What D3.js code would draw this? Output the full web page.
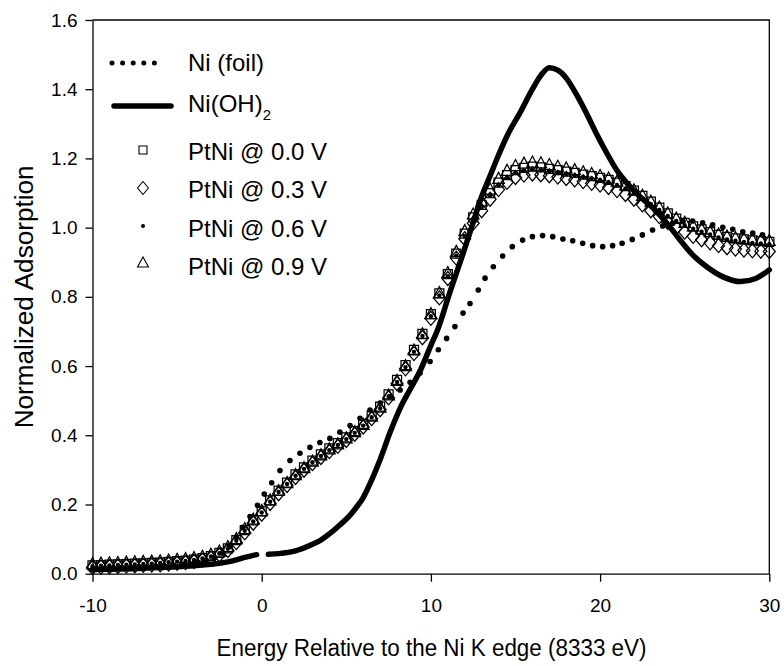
<!DOCTYPE html>
<html><head><meta charset="utf-8">
<script src="https://cdn.jsdelivr.net/npm/d3@7"></script>
<style>
body{margin:0;background:#fff}
text{font-family:"Liberation Sans",Arial,sans-serif;fill:#000}
</style>
</head><body>
<svg id="chart" width="784" height="666"></svg>
<script>
// ---------- data ----------
const energy = [
 -10,-9.5,-9,-8.5,-8,-7.5,-7,-6.5,-6,-5.5,
 -5,-4.5,-4,-3.5,-3,-2.5,-2,-1.5,-1,-0.5,
 0,0.5,1,1.5,2,2.5,3,3.5,4,4.5,
 5,5.5,6,6.5,7,7.5,8,8.5,9,9.5,
 10,10.5,11,11.5,12,12.5,13,13.5,14,14.5,
 15,15.5,16,16.5,17,17.5,18,18.5,19,19.5,
 20,20.5,21,21.5,22,22.5,23,23.5,24,24.5,
 25,25.5,26,26.5,27,27.5,28,28.5,29,29.5,
 30];
const ptni00 = [
 0.024,0.025,0.026,0.027,0.028,0.029,0.030,0.031,0.032,0.034,
 0.036,0.038,0.041,0.045,0.051,0.060,0.073,0.097,0.126,0.154,
 0.180,0.212,0.240,0.263,0.287,0.307,0.327,0.345,0.362,0.377,
 0.394,0.412,0.433,0.457,0.483,0.518,0.560,0.603,0.647,0.693,
 0.750,0.810,0.866,0.925,0.983,1.030,1.066,1.100,1.130,1.152,
 1.166,1.173,1.176,1.174,1.170,1.166,1.162,1.158,1.153,1.149,
 1.144,1.138,1.130,1.120,1.107,1.092,1.075,1.058,1.041,1.026,
 1.014,1.004,0.995,0.987,0.979,0.973,0.969,0.966,0.963,0.961,
 0.959];
const ptni03 = [
 0.018,0.019,0.020,0.021,0.022,0.023,0.024,0.025,0.026,0.028,
 0.030,0.032,0.035,0.039,0.045,0.054,0.067,0.090,0.118,0.146,
 0.172,0.203,0.231,0.255,0.278,0.299,0.318,0.336,0.353,0.368,
 0.385,0.403,0.424,0.448,0.474,0.508,0.549,0.592,0.636,0.682,
 0.738,0.797,0.853,0.912,0.968,1.013,1.049,1.082,1.110,1.131,
 1.145,1.152,1.155,1.153,1.150,1.146,1.142,1.138,1.133,1.128,
 1.123,1.116,1.107,1.096,1.082,1.066,1.049,1.032,1.015,1.000,
 0.987,0.975,0.965,0.956,0.948,0.942,0.938,0.935,0.933,0.932,
 0.931];
const ptni06 = [
 0.022,0.023,0.024,0.025,0.026,0.027,0.028,0.029,0.031,0.033,
 0.035,0.037,0.040,0.044,0.050,0.059,0.072,0.095,0.124,0.151,
 0.177,0.208,0.236,0.259,0.283,0.303,0.322,0.340,0.357,0.372,
 0.389,0.407,0.428,0.452,0.478,0.512,0.554,0.597,0.641,0.687,
 0.744,0.804,0.860,0.919,0.976,1.022,1.058,1.092,1.122,1.144,
 1.158,1.165,1.168,1.166,1.162,1.158,1.154,1.150,1.146,1.142,
 1.137,1.131,1.123,1.113,1.100,1.085,1.068,1.051,1.034,1.019,
 1.007,0.997,0.988,0.980,0.972,0.966,0.962,0.959,0.956,0.954,
 0.952];
const ptni09 = [
 0.028,0.029,0.030,0.031,0.032,0.033,0.034,0.035,0.036,0.038,
 0.040,0.042,0.045,0.049,0.055,0.064,0.077,0.100,0.129,0.156,
 0.181,0.212,0.239,0.262,0.285,0.305,0.324,0.342,0.359,0.374,
 0.391,0.409,0.430,0.454,0.480,0.515,0.557,0.600,0.645,0.692,
 0.750,0.811,0.869,0.930,0.990,1.038,1.076,1.110,1.141,1.164,
 1.178,1.185,1.188,1.186,1.181,1.176,1.171,1.166,1.160,1.155,
 1.149,1.142,1.133,1.122,1.108,1.092,1.075,1.058,1.041,1.026,
 1.014,1.004,0.995,0.987,0.980,0.974,0.970,0.967,0.965,0.963,
 0.962];
const foilE = [
 -10,-9.4,-8.8,-8.2,-7.6,-7.0,-6.4,-5.8,-5.2,-4.6,
 -4.0,-3.4,-2.8,-2.3,-1.9,-1.5,-1.12,-0.69,-0.25,0.15,
 0.59,1.08,1.67,2.26,2.85,3.44,4.03,4.62,5.22,5.81,
 6.4,7.0,7.6,8.18,8.77,9.36,9.95,10.44,10.93,11.42,
 11.9,12.31,12.8,13.2,13.69,14.24,14.81,15.42,16.0,16.6,
 17.2,17.8,18.38,18.97,19.56,20.15,20.74,21.3,21.9,22.5,
 23.1,23.7,24.3,24.9,25.47,26.06,26.65,27.25,27.84,28.43,
 29.02,29.6];
const foilV = [
 0.012,0.013,0.014,0.015,0.016,0.018,0.019,0.021,0.024,0.027,
 0.031,0.037,0.046,0.060,0.078,0.105,0.134,0.165,0.198,0.230,
 0.263,0.298,0.327,0.348,0.365,0.379,0.391,0.409,0.428,0.449,
 0.473,0.493,0.512,0.531,0.553,0.580,0.613,0.647,0.680,0.714,
 0.753,0.781,0.820,0.854,0.887,0.918,0.945,0.964,0.974,0.977,
 0.974,0.967,0.962,0.955,0.948,0.945,0.948,0.955,0.966,0.979,
 0.993,1.005,1.013,1.018,1.019,1.014,1.008,1.001,0.995,0.988,
 0.984,0.979];
// Ni(OH)2: null marks the gap in the measured curve
const niohE = [-10,-9,-8,-7,-6,-5,-4,-3,-2,-1.5,-1,-0.5,-0.3,0,
 0.4,1,2,3,3.5,4,4.6,5.2,5.6,6,6.4,7,7.6,8.2,8.8,9.4,10,10.4,11.1,11.9,12.5,13,13.5,14,14.5,15.3,
 16,16.5,17,17.5,18,18.6,19.2,19.8,20.4,21,21.6,22.3,23.1,24,24.7,25.5,26.3,27.3,28.3,29.2,30];
const niohV = [0.012,0.013,0.014,0.016,0.018,0.020,0.023,0.027,0.034,0.040,0.047,0.053,0.055,null,
 0.056,0.058,0.066,0.085,0.097,0.115,0.140,0.168,0.192,0.220,0.260,0.330,0.410,0.480,0.535,0.590,0.660,0.705,0.810,0.925,1.015,1.090,1.150,1.210,1.265,1.335,
 1.400,1.440,1.462,1.455,1.432,1.385,1.330,1.270,1.215,1.165,1.128,1.092,1.058,1.010,0.966,0.920,0.887,0.857,0.844,0.853,0.878];

const xTicks = [-10,0,10,20,30];
const yTicks = [0,0.2,0.4,0.6,0.8,1.0,1.2,1.4,1.6];
const legendLabels = ["Ni (foil)","Ni(OH)","PtNi @ 0.0 V","PtNi @ 0.3 V","PtNi @ 0.6 V","PtNi @ 0.9 V"];
const xTitle = "Energy Relative to the Ni K edge (8333 eV)";
const yTitle = "Normalized Adsorption";

// ---------- layout ----------
const W = 784, H = 666;
const m = {left: 92.5, right: 14.7, top: 20, bottom: 92.3};
const svg = d3.select("#chart");
const x = d3.scaleLinear().domain([-10,30]).range([m.left, W - m.right]);
const y = d3.scaleLinear().domain([0,1.6]).range([H - m.bottom, m.top]);

// frame (top & right)
svg.append("path")
  .attr("d", `M${x(-10)},${y(1.6)}H${x(30)}V${y(0)}`)
  .attr("fill","none").attr("stroke","#000").attr("stroke-width",1.3);

const xAxis = svg.append("g").attr("transform",`translate(0,${y(0)})`)
  .call(d3.axisBottom(x).tickValues(xTicks).tickFormat(d=>String(d)).tickSize(8).tickSizeOuter(0).tickPadding(17));
const yAxis = svg.append("g").attr("transform",`translate(${x(-10)},0)`)
  .call(d3.axisLeft(y).tickValues(yTicks).tickFormat(d=>d.toFixed(1)).tickSize(7).tickSizeOuter(0).tickPadding(8));
[xAxis,yAxis].forEach(g=>{
  g.select(".domain").attr("stroke","#000").attr("stroke-width",1.3);
  g.selectAll(".tick line").attr("stroke","#000").attr("stroke-width",1.3);
  g.selectAll(".tick text").attr("font-size",19).attr("font-family",'"Liberation Sans",Arial,sans-serif').attr("fill","#000");
});

// axis titles
svg.append("text").attr("x",431.5).attr("y",656).attr("text-anchor","middle")
  .attr("font-size",23).attr("textLength",430).attr("lengthAdjust","spacingAndGlyphs").text(xTitle);
svg.append("text").attr("transform",`translate(33,${(y(0)+y(1.6))/2}) rotate(-90)`).attr("text-anchor","middle")
  .attr("font-size",25).attr("textLength",263).attr("lengthAdjust","spacingAndGlyphs").text(yTitle);

// ---------- markers ----------
const shapes = {
  square: "M-4.5,-4.5h9v9h-9Z",
  diamond: "M0,-7L6,0L0,7L-6,0Z",
  triangle: "M0,-6.5L5.8,4.5L-5.8,4.5Z",
  lsquare: "M-4,-4h8v8h-8Z",
  ldiamond: "M0,-6.5L5.5,0L0,6.5L-5.5,0Z",
  ltriangle: "M0,-6L5.5,4L-5.5,4Z"
};
const ptSeries = [
  {vals: ptni00, shape: "square"},
  {vals: ptni03, shape: "diamond"},
  {vals: ptni09, shape: "triangle"},
  {vals: ptni06, shape: "dot"}
];
ptSeries.forEach(s=>{
  const g = svg.append("g");
  const pts = energy.map((e,i)=>({e, v: s.vals[i]}));
  if (s.shape === "dot") {
    g.selectAll("circle").data(pts).join("circle")
      .attr("cx",d=>x(d.e)).attr("cy",d=>y(d.v)).attr("r",2.2).attr("fill","#000");
  } else {
    g.selectAll("path").data(pts).join("path")
      .attr("d",shapes[s.shape]).attr("transform",d=>`translate(${x(d.e)},${y(d.v)})`)
      .attr("fill","none").attr("stroke","#000").attr("stroke-width",1.25);
  }
});

// Ni(OH)2 thick line
const nioh = niohE.map((e,i)=>({e, v: niohV[i]}));
svg.append("path").datum(nioh)
  .attr("d", d3.line().defined(d=>d.v!==null).x(d=>x(d.e)).y(d=>y(d.v)).curve(d3.curveMonotoneX))
  .attr("fill","none").attr("stroke","#000").attr("stroke-width",5.5).attr("stroke-linecap","round").attr("stroke-linejoin","round");

// Ni foil dots
const foil = foilE.map((e,i)=>({e, v: foilV[i]}));
svg.append("g").selectAll("circle").data(foil).join("circle")
  .attr("cx",d=>x(d.e)).attr("cy",d=>y(d.v)).attr("r",2.8).attr("fill","#000");

// ---------- legend ----------
const lg = svg.append("g");
const textX = 188;
const baselines = [70.5, 111.5, 160, 198, 236.5, 275];
const symY = [63, 106, 150, 188, 226, 263];
legendLabels.forEach((t,i)=>{
  const tx = lg.append("text").attr("x",textX).attr("y",baselines[i]).attr("font-size",24).text(t);
  if (i===1) tx.append("tspan").attr("font-size",15).attr("dy",8).text("2");
});
lg.append("line").attr("x1",112).attr("x2",165).attr("y1",symY[0]).attr("y2",symY[0])
  .attr("stroke","#000").attr("stroke-width",5).attr("stroke-linecap","round").attr("stroke-dasharray","0,10.6");
lg.append("line").attr("x1",114).attr("x2",171).attr("y1",symY[1]).attr("y2",symY[1])
  .attr("stroke","#000").attr("stroke-width",5.5).attr("stroke-linecap","round");
const symX = 143;
lg.append("path").attr("d",shapes.lsquare).attr("transform",`translate(${symX},${symY[2]})`).attr("fill","none").attr("stroke","#000").attr("stroke-width",1.1);
lg.append("path").attr("d",shapes.ldiamond).attr("transform",`translate(${symX},${symY[3]})`).attr("fill","none").attr("stroke","#000").attr("stroke-width",1.1);
lg.append("circle").attr("cx",symX).attr("cy",symY[4]).attr("r",2).attr("fill","#000");
lg.append("path").attr("d",shapes.ltriangle).attr("transform",`translate(${symX},${symY[5]})`).attr("fill","none").attr("stroke","#000").attr("stroke-width",1.1);
</script>
</body></html>
